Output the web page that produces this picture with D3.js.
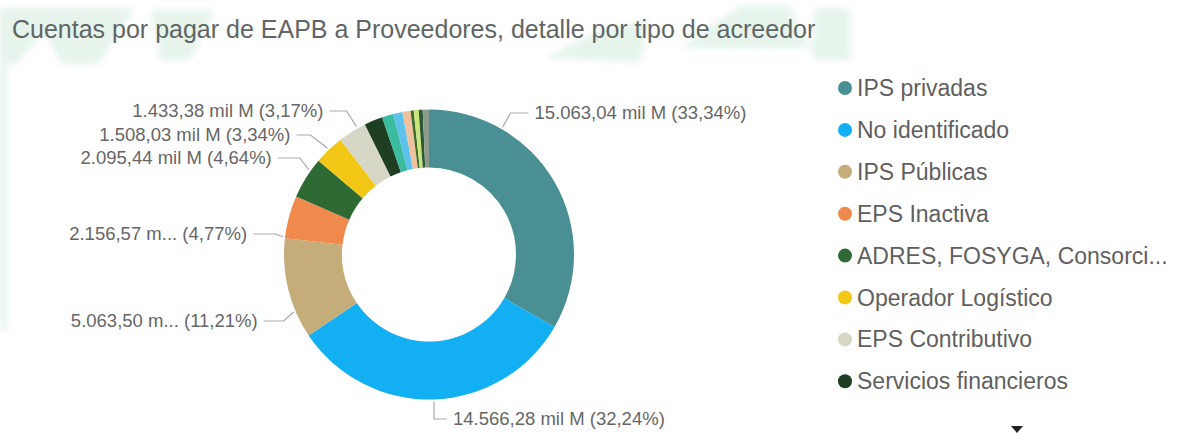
<!DOCTYPE html>
<html>
<head>
<meta charset="utf-8">
<script src="https://cdn.jsdelivr.net/npm/d3@7/dist/d3.min.js"></script>
<style>
  body { margin: 0; background: #fff; }
  svg { display: block; font-family: "Liberation Sans", Arial, sans-serif; }
</style>
</head>
<body>
<svg id="chart" width="1177" height="435"></svg>
<script>
// data (mil M)
var categories = ["IPS privadas", "No identificado", "IPS Públicas", "EPS Inactiva",
  "ADRES, FOSYGA, Consorcios", "Operador Logístico", "EPS Contributivo", "Servicios financieros",
  "EPS Subsidiado", "Entidades territoriales", "Proveedores de medicamentos", "Cajas de compensación",
  "Personas naturales", "Otras entidades", "Otros"];
var values = [15063.04, 14566.28, 5063.50, 2156.57, 2095.44, 1508.03, 1433.38, 926.19,
  573.80, 465.40, 406.60, 158.10, 248.50, 203.30, 311.70];
var colors = ["#4a8f93", "#12aff2", "#c4ad79", "#f08a4c", "#2f6a34", "#f2c715", "#d6d7c7", "#1e3f23",
  "#3cbc9f", "#5cc2ec", "#efc29d", "#3b6e2b", "#c9e57b", "#2e5934", "#8e9a8d"];
var legendShown = 8;

// which slices carry a label, and how Power BI placed them
var labelLayout = [
  { i: 0, t: 0.25, ly: 113, dx: 8,  len: 18, cut: false },
  { i: 1, t: 0.5,  ly: 419, dx: 0,  len: 13, cut: false },
  { i: 2, t: 0.27, ly: 321, dx: -10, len: 20, cut: true },
  { i: 3, t: 0.03, ly: 234, dx: -8, len: 22, cut: true },
  { i: 4, t: 0.69, ly: 158, dx: -9, len: 22, cut: false },
  { i: 5, t: 0.5,  ly: 135, dx: -17, len: 14, cut: false },
  { i: 6, t: 0.71, ly: 111, dx: -10, len: 17, cut: false }
];

var svg = d3.select("#chart");
var defs = svg.append("defs");
defs.append("filter").attr("id", "soft")
  .append("feGaussianBlur").attr("stdDeviation", 3);

// faint watermark of the report background
var wm = svg.append("g").attr("fill", "#e6f4ec").attr("filter", "url(#soft)");
[
  [[0,8],[135,8],[98,64],[62,64],[44,32],[16,64],[0,64]],
  [[150,10],[215,10],[190,60],[160,60]],
  [[0,60],[7,60],[7,330],[0,330]],
  [[545,58],[600,30],[650,20],[640,62]],
  [[680,48],[740,6],[790,6],[815,60],[850,60],[850,8],[815,8],[812,48]]
].forEach(function(p){
  wm.append("polygon").attr("points", p.map(function(q){ return q.join(","); }).join(" "));
});

svg.append("text")
  .attr("x", 12).attr("y", 38)
  .attr("font-size", 25)
  .attr("fill", "#606665")
  .text("Cuentas por pagar de EAPB a Proveedores, detalle por tipo de acreedor");

var cx = 429, cy = 254.5, rOut = 145, rIn = 87;
var total = d3.sum(values);
var loc = d3.formatLocale({ decimal: ",", thousands: ".", grouping: [3], currency: ["$", ""] });
var fmtNum = loc.format(",.2f"), fmtPct = loc.format(".2f");

var pie = d3.pie().sort(null).value(function(d){ return d; });
var arcs = pie(values);
var arc = d3.arc().innerRadius(rIn).outerRadius(rOut);

var g = svg.append("g").attr("transform", "translate(" + cx + "," + cy + ")");
g.selectAll("path")
  .data(arcs)
  .enter().append("path")
  .attr("d", arc)
  .attr("fill", function(d, i){ return colors[i]; });

// data labels with leader lines
labelLayout.forEach(function(L){
  var s = arcs[L.i];
  var a = s.startAngle + L.t * (s.endAngle - s.startAngle);
  var r0 = rOut + 2;
  var x0 = cx + Math.sin(a) * r0, y0 = cy - Math.cos(a) * r0;
  var right = Math.sin(a) >= 0.02 || L.dx >= 0;
  var side = right ? 1 : -1;
  var ex = x0 + L.dx, ey = L.ly;
  var hx = ex + side * L.len;
  svg.append("path")
    .attr("d", "M" + x0 + "," + y0 + "L" + ex + "," + ey + "L" + hx + "," + ey)
    .attr("fill", "none").attr("stroke", "#a9a9a9").attr("stroke-width", 1.2);
  var v = values[L.i];
  var txt = fmtNum(v) + (L.cut ? " m..." : " mil M") + " (" + fmtPct(v / total * 100) + "%)";
  svg.append("text")
    .attr("x", hx + side * 6).attr("y", ey)
    .attr("dy", "0.35em")
    .attr("text-anchor", right ? "start" : "end")
    .attr("font-size", 18.5)
    .attr("fill", "#666666")
    .text(txt);
});

// legend (first entries visible, rest behind the scroll arrow)
var lg = svg.append("g").attr("transform", "translate(845,88)");
var items = lg.selectAll("g")
  .data(categories.slice(0, legendShown))
  .enter().append("g")
  .attr("transform", function(d, i){ return "translate(0," + (i * 41.9) + ")"; });
items.append("circle").attr("r", 7).attr("fill", function(d, i){ return colors[i]; });
items.append("text")
  .attr("x", 12).attr("dy", "0.35em")
  .attr("font-size", 23)
  .attr("fill", "#5f5f5f")
  .text(function(d){ return d.length > 24 ? d.slice(0, 23) + "..." : d; });

svg.append("path")
  .attr("d", "M1011,426L1023,426L1017,433Z")
  .attr("fill", "#222");
</script>
</body>
</html>
